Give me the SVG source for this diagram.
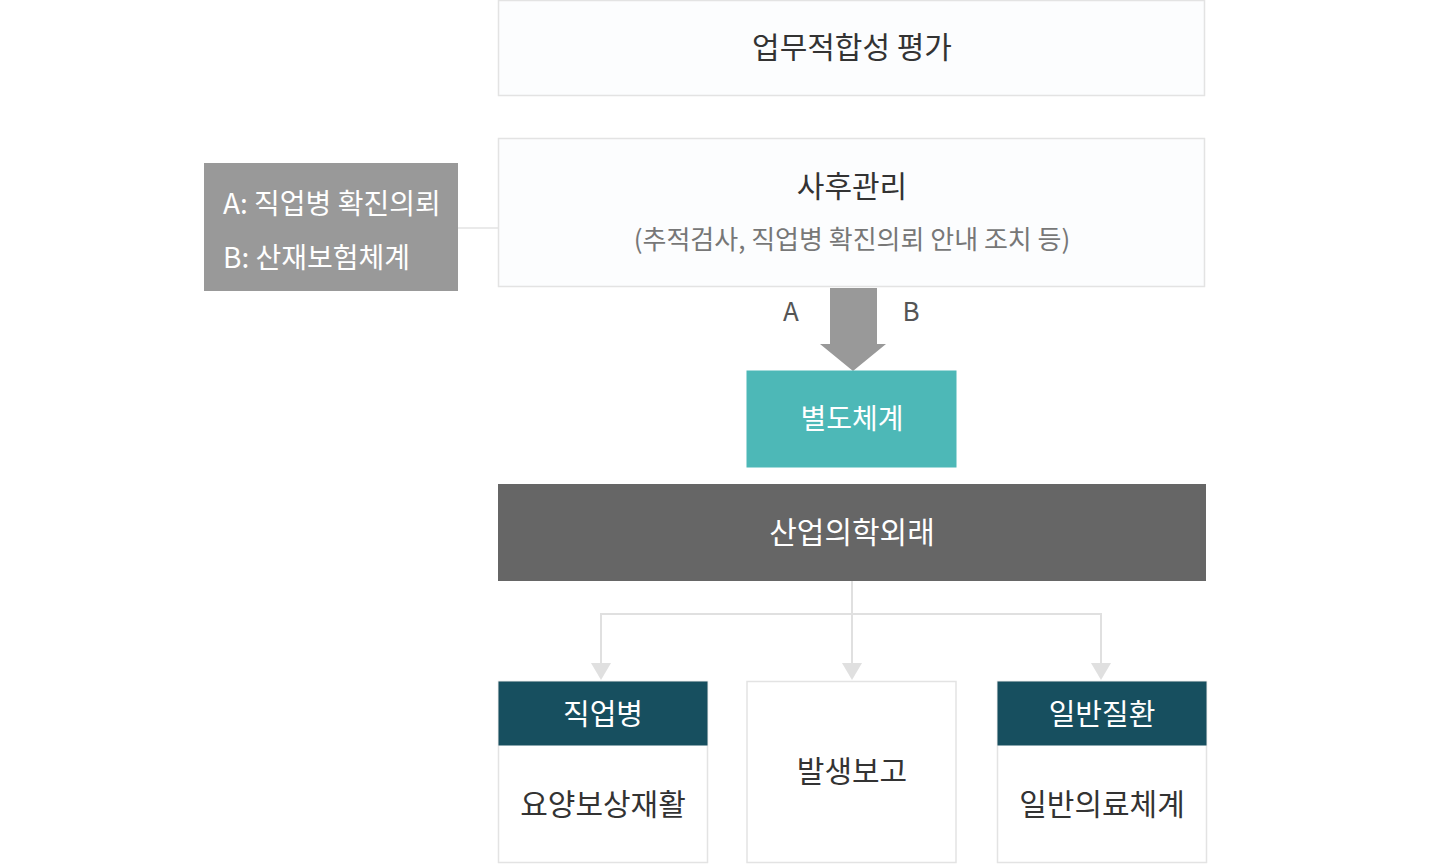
<svg xmlns="http://www.w3.org/2000/svg" width="1456" height="867" viewBox="0 0 1456 867">
<defs>
<style>
text{font-family:"Noto Sans CJK KR","Noto Sans",sans-serif;text-anchor:middle;dominant-baseline:central}
.light{fill:#fcfdfe;stroke:#e3e3e3;stroke-width:1.5}
.white{fill:#fff;stroke:#e3e3e3;stroke-width:1.5}
.t-dark{fill:#333;font-size:30px}
.t-white{fill:#fff;font-size:30px}
.t-sub{fill:#777;font-size:26px}
.conn{fill:none;stroke:#e0e0e0;stroke-width:2}
.head{fill:#e0e0e0}
</style>
</defs>
<rect width="1456" height="867" fill="#fff"/>
<g id="connectors">
<line x1="458" y1="228" x2="498" y2="228" stroke="#e3e3e3" stroke-width="1.5"/>
<path d="M830,288 H877 V344 H886 L853,371 L820,344 H830 Z" fill="#999"/>
<path class="conn" d="M852,581 V664 M601,664 V614 H1101 V664"/>
<path class="head" d="M591,663 L611,663 L601,680 Z"/>
<path class="head" d="M842,663 L862,663 L852,680 Z"/>
<path class="head" d="M1091,663 L1111,663 L1101,680 Z"/>
</g>
<g id="node-eval">
<rect class="light" x="498.5" y="0.5" width="706" height="95"/>
<text class="t-dark" x="852" y="45">업무적합성 평가</text>
</g>
<g id="node-after">
<rect class="light" x="498.5" y="138.5" width="706" height="148"/>
<text class="t-dark" x="852" y="184">사후관리</text>
<text class="t-sub" x="852" y="237">(추적검사, 직업병 확진의뢰 안내 조치 등)</text>
</g>
<g id="node-legend">
<rect x="204" y="163" width="254" height="128" fill="#999"/>
<text x="223" y="202" fill="#fff" font-size="28" style="text-anchor:start">A: 직업병 확진의뢰</text>
<text x="223" y="256" fill="#fff" font-size="28" style="text-anchor:start">B: 산재보험체계</text>
</g>
<g id="labels-ab">
<text x="791" y="309" fill="#555" font-size="26">A</text>
<text x="911" y="309" fill="#555" font-size="26">B</text>
</g>
<g id="node-separate">
<rect x="746.5" y="370.5" width="210" height="97" fill="#4db8b7"/>
<text class="t-white" x="852" y="417" style="font-size:28px">별도체계</text>
</g>
<g id="node-clinic">
<rect x="498" y="484" width="708" height="97" fill="#666"/>
<text class="t-white" x="852" y="530">산업의학외래</text>
</g>
<g id="node-occupational">
<rect class="white" x="498.5" y="681.5" width="209" height="181"/>
<rect x="498.5" y="681.5" width="209" height="64" fill="#174f5f"/>
<text class="t-white" x="603" y="712" style="font-size:29px">직업병</text>
<text class="t-dark" x="603" y="802">요양보상재활</text>
</g>
<g id="node-report">
<rect class="white" x="747" y="681.5" width="209" height="181"/>
<text class="t-dark" x="852" y="769">발생보고</text>
</g>
<g id="node-general">
<rect class="white" x="997.5" y="681.5" width="209" height="181"/>
<rect x="997.5" y="681.5" width="209" height="64" fill="#174f5f"/>
<text class="t-white" x="1102" y="712" style="font-size:29px">일반질환</text>
<text class="t-dark" x="1102" y="802">일반의료체계</text>
</g>
</svg>
